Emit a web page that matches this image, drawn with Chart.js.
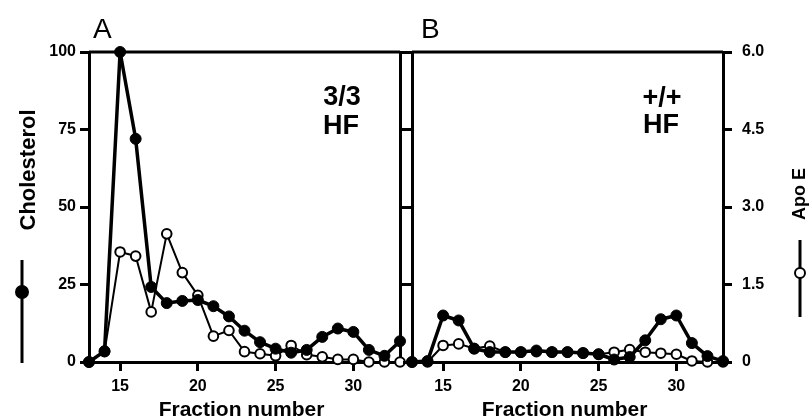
<!DOCTYPE html>
<html>
<head>
<meta charset="utf-8">
<script src="https://cdn.jsdelivr.net/npm/chart.js@4"></script>
<style>
  body { margin: 0; background: #fff; }
  #wrap { position: relative; width: 810px; height: 418px; }
  canvas { position: absolute; top: 0; }
  #chartA { left: 0; }
  #chartB { left: 400px; }
</style>
</head>
<body>
<div id="wrap">
  <canvas id="chartA" width="412" height="418"></canvas>
  <canvas id="chartB" width="410" height="418"></canvas>
</div>
<script>
// fraction numbers along the x axis
const fractions = [13, 14, 15, 16, 17, 18, 19, 20, 21, 22, 23, 24, 25, 26, 27, 28, 29, 30, 31, 32, 33];

// panel A (3/3 HF)
const cholA = [0, 3.5, 100, 72, 24.2, 19, 19.7, 20, 18, 14.7, 10.1, 6.4, 4.3, 3, 3.9, 8.1, 10.8, 9.7, 3.9, 2, 6.7];
const apoEA = [0, 0.2, 2.13, 2.05, 0.97, 2.48, 1.73, 1.29, 0.5, 0.61, 0.2, 0.16, 0.12, 0.32, 0.14, 0.1, 0.05, 0.05, 0, 0, 0];

// panel B (+/+ HF)
const cholB = [0, 0.3, 15, 13.4, 4.3, 3.2, 3.2, 3.2, 3.7, 3.2, 3.2, 2.9, 2.5, 0.8, 1.6, 7, 13.8, 15, 6.1, 1.9, 0.3];
const apoEB = [0, 0, 0.32, 0.35, 0.26, 0.31, 0.19, 0.19, 0.2, 0.19, 0.19, 0.17, 0.15, 0.19, 0.24, 0.19, 0.17, 0.15, 0.02, 0, 0];

const fractionTicks = [15, 20, 25, 30];
const cholTicks = [0, 25, 50, 75, 100];
const apoTicks = [0, 1.5, 3.0, 4.5, 6.0];

const FONT = "'Liberation Sans', Arial, sans-serif";

function points(values) {
  return fractions.map((f, i) => ({ x: f, y: values[i] }));
}

function setTicks(list) {
  return (scale) => { scale.ticks = list.map(v => ({ value: v })); };
}

function closedSet(values) {
  return {
    data: points(values),
    yAxisID: "y",
    borderColor: "#000",
    backgroundColor: "#000",
    borderWidth: 3.5,
    borderJoinStyle: "round",
    pointRadius: 5.5,
    pointBorderWidth: 1,
    pointBackgroundColor: "#000",
    clip: false,
    order: 0
  };
}

function openSet(values) {
  return {
    data: points(values),
    yAxisID: "y2",
    borderColor: "#000",
    backgroundColor: "#fff",
    borderWidth: 2,
    borderJoinStyle: "round",
    pointRadius: 4.8,
    pointBorderWidth: 2,
    pointBackgroundColor: "#fff",
    clip: false,
    order: 1
  };
}

const gridOpts = {
  drawOnChartArea: false,
  drawTicks: true,
  tickLength: 9,
  tickWidth: 3,
  color: "#000"
};
const borderOpts = { display: true, width: 3, color: "#000" };
const tickFont = { family: FONT, size: 16, weight: "bold" };

function makeOptions(leftWidth, rightWidth, showLeft, showRight) {
  return {
    responsive: false,
    animation: false,
    devicePixelRatio: 1,
    layout: { padding: { top: 52, left: 0, right: 0, bottom: 0 } },
    plugins: { legend: { display: false }, tooltip: { enabled: false } },
    scales: {
      x: {
        type: "linear",
        min: 13,
        max: 33,
        afterBuildTicks: setTicks(fractionTicks),
        afterFit: (s) => { s.height = 56; },
        grid: gridOpts,
        border: borderOpts,
        ticks: { color: "#000", font: tickFont, padding: 6 }
      },
      y: {
        position: "left",
        min: 0,
        max: 100,
        afterBuildTicks: setTicks(cholTicks),
        afterFit: (s) => { s.width = leftWidth; },
        grid: gridOpts,
        border: borderOpts,
        ticks: { display: showLeft, color: "#000", font: tickFont, padding: 4 }
      },
      y2: {
        position: "right",
        min: 0,
        max: 6,
        afterBuildTicks: setTicks(apoTicks),
        afterFit: (s) => { s.width = rightWidth; },
        grid: gridOpts,
        border: borderOpts,
        ticks: {
          display: showRight,
          color: "#000",
          font: tickFont,
          padding: 10,
          callback: (v) => v === 0 ? "0" : v.toFixed(1)
        }
      }
    }
  };
}

// frame + annotations drawn on top of each panel
function annotate(drawExtras) {
  return {
    id: "annot",
    afterDraw(chart) {
      const { ctx, chartArea: a } = chart;
      ctx.save();
      ctx.strokeStyle = "#000";
      ctx.lineWidth = 3;
      ctx.beginPath();
      ctx.moveTo(a.left, a.top);
      ctx.lineTo(a.right, a.top);
      ctx.stroke();
      ctx.fillStyle = "#000";
      ctx.font = "bold 21px " + FONT;
      ctx.textAlign = "center";
      ctx.textBaseline = "alphabetic";
      ctx.fillText("Fraction number", (a.left + a.right) / 2 - 3, 416);
      drawExtras(ctx);
      ctx.restore();
    }
  };
}

function glyph(ctx, x, y1, y2, cy, filled) {
  ctx.lineWidth = 3;
  ctx.beginPath();
  ctx.moveTo(x, y1);
  ctx.lineTo(x, y2);
  ctx.stroke();
  ctx.beginPath();
  ctx.arc(x, cy, filled ? 6 : 5, 0, Math.PI * 2);
  ctx.fillStyle = filled ? "#000" : "#fff";
  ctx.fill();
  ctx.lineWidth = 2;
  ctx.stroke();
  ctx.fillStyle = "#000";
}

new Chart(document.getElementById("chartA"), {
  type: "line",
  data: { datasets: [closedSet(cholA), openSet(apoEA)] },
  options: makeOptions(89, 12, true, false),
  plugins: [annotate((ctx) => {
    ctx.textAlign = "left";
    ctx.font = "28px " + FONT;
    ctx.fillText("A", 93, 38);
    ctx.textAlign = "center";
    ctx.font = "bold 27px " + FONT;
    ctx.fillText("3/3", 342, 105);
    ctx.fillText("HF", 341, 134);
    ctx.save();
    ctx.translate(35, 170);
    ctx.rotate(-Math.PI / 2);
    ctx.font = "bold 22px " + FONT;
    ctx.fillText("Cholesterol", 0, 0);
    ctx.restore();
    glyph(ctx, 22, 260, 363, 292, true);
  })]
});

new Chart(document.getElementById("chartB"), {
  type: "line",
  data: { datasets: [closedSet(cholB), openSet(apoEB)] },
  options: makeOptions(12, 87, false, true),
  plugins: [annotate((ctx) => {
    ctx.textAlign = "left";
    ctx.font = "28px " + FONT;
    ctx.fillText("B", 21, 38);
    ctx.textAlign = "center";
    ctx.font = "bold 27px " + FONT;
    ctx.fillText("+/+", 262, 106);
    ctx.fillText("HF", 261, 133);
    ctx.save();
    ctx.translate(405, 194);
    ctx.rotate(-Math.PI / 2);
    ctx.font = "bold 18px " + FONT;
    ctx.fillText("Apo E", 0, 0);
    ctx.restore();
    glyph(ctx, 400, 240, 317, 273, false);
  })]
});
</script>
</body>
</html>
